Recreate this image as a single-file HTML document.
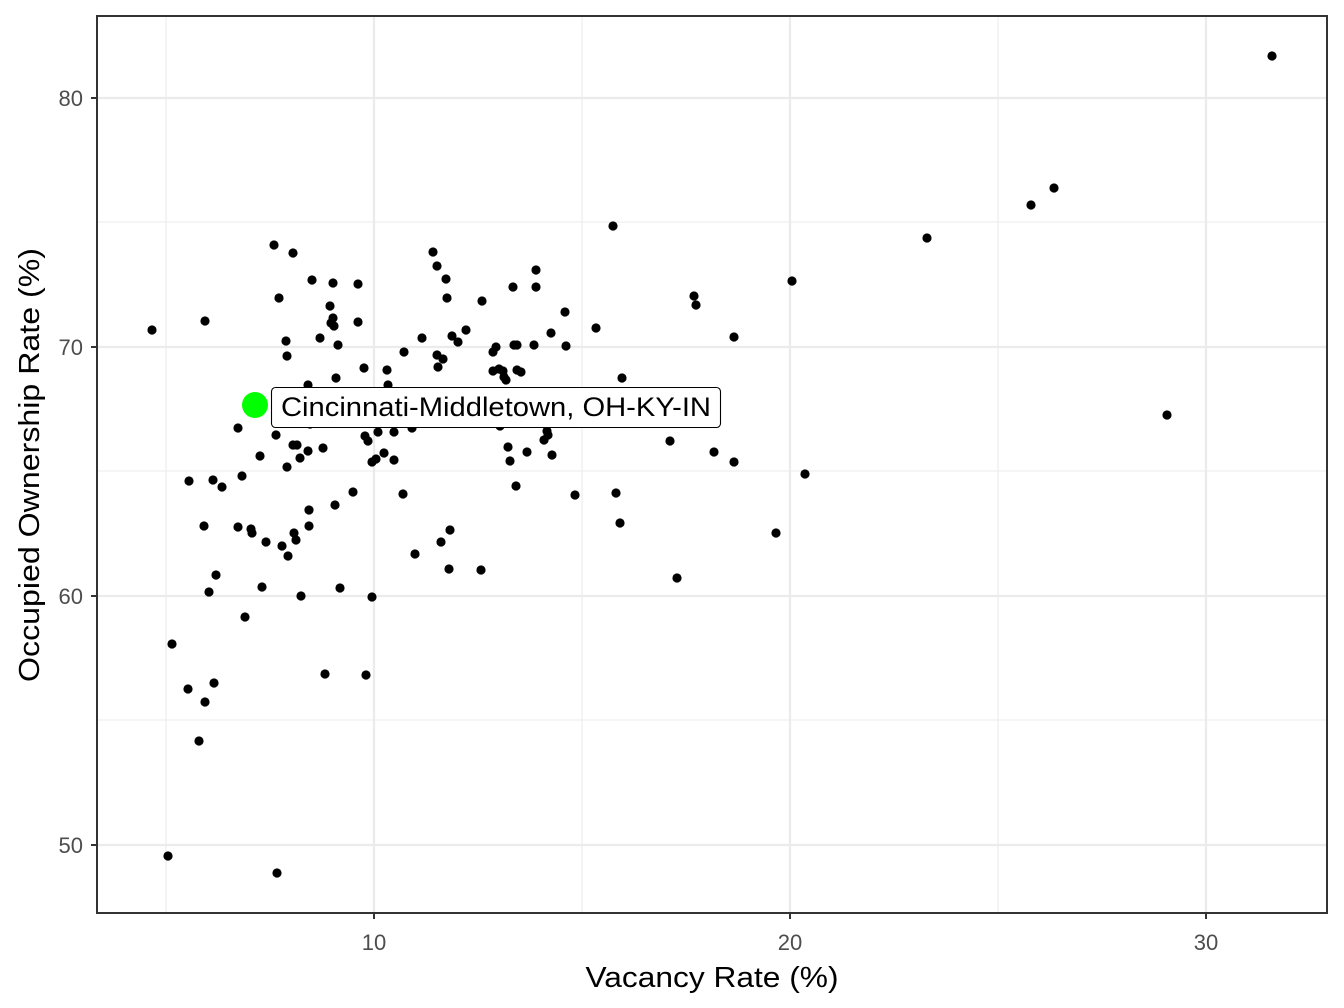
<!DOCTYPE html>
<html><head><meta charset="utf-8"><style>
html,body{margin:0;padding:0;background:#fff;}
svg{display:block;font-family:"Liberation Sans",Arial,sans-serif;}
</style></head><body>
<svg id="s" width="1344" height="1008" viewBox="0 0 1344 1008" xmlns="http://www.w3.org/2000/svg">
<rect width="1344" height="1008" fill="#fff"/>
<g stroke="#ebebeb" stroke-width="1.1">
<line x1="166" y1="16" x2="166" y2="913"/><line x1="582" y1="16" x2="582" y2="913"/><line x1="998" y1="16" x2="998" y2="913"/>
<line x1="97" y1="222" x2="1327" y2="222"/><line x1="97" y1="471" x2="1327" y2="471"/><line x1="97" y1="720" x2="1327" y2="720"/>
</g>
<g stroke="#ebebeb" stroke-width="2.2">
<line x1="374" y1="16" x2="374" y2="913"/><line x1="790" y1="16" x2="790" y2="913"/><line x1="1206" y1="16" x2="1206" y2="913"/>
<line x1="97" y1="98" x2="1327" y2="98"/><line x1="97" y1="347" x2="1327" y2="347"/><line x1="97" y1="596" x2="1327" y2="596"/><line x1="97" y1="845" x2="1327" y2="845"/>
</g>
<g id="pts" fill="#000"></g>
<circle cx="255" cy="405" r="13" fill="#00ff00"/>
<rect x="271.5" y="387.5" width="449" height="40" rx="4" fill="#fff" stroke="#000" stroke-width="1.1"/>
<text x="281" y="416" font-size="27" textLength="430" lengthAdjust="spacingAndGlyphs" fill="#000">Cincinnati-Middletown, OH-KY-IN</text>
<rect x="97" y="16" width="1230" height="897" fill="none" stroke="#333" stroke-width="2"/>
<g stroke="#333" stroke-width="2">
<line x1="374" y1="913" x2="374" y2="919"/><line x1="790" y1="913" x2="790" y2="919"/><line x1="1206" y1="913" x2="1206" y2="919"/>
<line x1="91" y1="98" x2="97" y2="98"/><line x1="91" y1="347" x2="97" y2="347"/><line x1="91" y1="596" x2="97" y2="596"/><line x1="91" y1="845" x2="97" y2="845"/>
</g>
<g font-size="22" fill="#4d4d4d">
<text x="374" y="950" text-anchor="middle">10</text><text x="790" y="950" text-anchor="middle">20</text><text x="1206" y="950" text-anchor="middle">30</text>
<text x="83" y="106" text-anchor="end">80</text><text x="83" y="355" text-anchor="end">70</text><text x="83" y="604" text-anchor="end">60</text><text x="83" y="853" text-anchor="end">50</text>
</g>
<text x="712" y="987" font-size="29" textLength="253" lengthAdjust="spacingAndGlyphs" text-anchor="middle" fill="#000">Vacancy Rate (%)</text>
<text transform="translate(39,465) rotate(-90)" font-size="29" textLength="434" lengthAdjust="spacingAndGlyphs" text-anchor="middle" fill="#000">Occupied Ownership Rate (%)</text>
</svg>
<script>
var p=[152,330,168,856,172,644,188,689,189,481,199,741,204,526,205,321,205,702,209,592,213,480,214,683,216,575,222,487,238,428,238,527,242,476,245,617,251,529,252,533,260,456,262,587,266,542,274,245,276,435,277,873,279,298,282,546,286,341,287,356,287,467,288,556,293,253,293,445,294,533,296,540,297,445,300,458,301,596,308,451,308,385,309,526,309,510,310,424,312,280,320,338,323,448,325,674,330,306,331,323,333,283,333,318,334,326,335,505,336,378,338,345,353,492,340,588,358,284,358,322,364,368,365,436,366,675,368,441,372,597,372,462,376,459,378,432,384,453,387,370,388,385,394,432,394,460,404,352,403,494,412,428,415,554,422,338,433,252,437,266,446,279,447,298,449,569,450,530,441,542,452,336,458,342,466,330,437,355,443,359,438,367,481,570,482,301,493,352,496,347,493,371,499,369,500,426,503,371,504,377,506,380,508,447,510,461,513,287,514,345,517,345,517,370,516,486,521,372,527,452,534,345,536,270,536,287,544,440,547,431,548,435,552,455,551,333,565,312,566,346,575,495,596,328,613,226,616,493,620,523,622,378,670,441,677,578,694,296,696,305,714,452,734,337,734,462,776,533,792,281,805,474,927,238,1031,205,1054,188,1167,415,1272,56];
var g=document.getElementById('pts');
for(var i=0;i<p.length;i+=2){var c=document.createElementNS('http://www.w3.org/2000/svg','circle');c.setAttribute('cx',p[i]);c.setAttribute('cy',p[i+1]);c.setAttribute('r','4.6');g.appendChild(c);}
</script>
</body></html>
